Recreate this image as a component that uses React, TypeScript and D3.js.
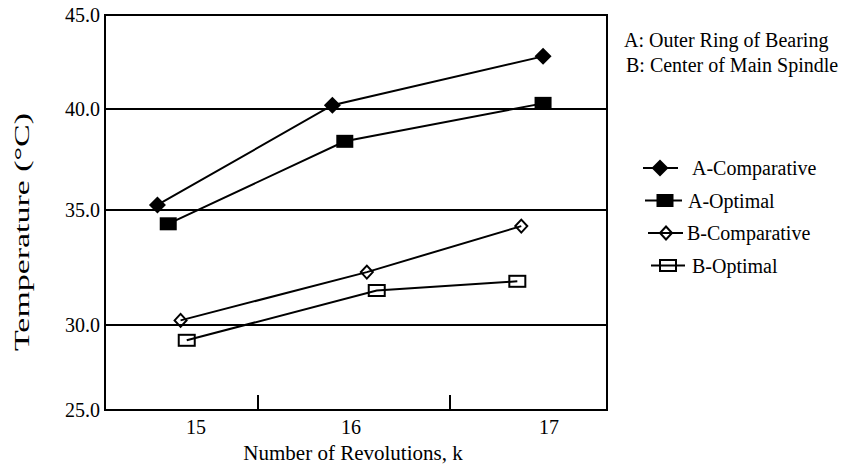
import * as d3 from "d3";

// y ticks and category labels
const tempTicks = [25, 30, 35, 40, 45];
const gridTemps = [30, 35, 40];
const revLabels = [15, 16, 17];
const revDividers = [15.4, 16.5];

// series: x in k revolutions (as placed in the figure), y in °C
const aCompK = [14.75, 15.88, 16.97];
const aCompT = [35.25, 40.2, 42.8];
const aOptK = [14.82, 15.96, 16.97];
const aOptT = [34.4, 38.4, 40.3];
const bCompK = [14.9, 16.08, 16.86];
const bCompT = [30.2, 32.3, 34.3];
const bOptK = [14.94, 16.13, 16.84];
const bOptT = [29.1, 31.5, 31.9];

const legendNotes = ["A: Outer Ring of Bearing", "B: Center of Main Spindle"];

const series = [
  { name: "A-Comparative", k: aCompK, t: aCompT, shape: "diamond", filled: true },
  { name: "A-Optimal", k: aOptK, t: aOptT, shape: "square", filled: true },
  { name: "B-Comparative", k: bCompK, t: bCompT, shape: "diamond", filled: false },
  { name: "B-Optimal", k: bOptK, t: bOptT, shape: "square", filled: false },
];

const W = 841;
const H = 466;
const left = 105, right = 607, top = 15, bottom = 410;
const font = '"Liberation Serif", "DejaVu Serif", serif';

// the original axis is not evenly spaced, so use piecewise scales
const x = d3.scaleLinear().domain([14.41, 15, 16, 17, 17.29]).range([left, 196, 351, 549, right]);
const y = d3.scaleLinear().domain([25, 30, 35, 40, 45]).range([bottom, 325, 210, 109, top]);

const Marker = ({ cx, cy, shape, filled }: any) => {
  if (shape === "diamond") {
    const r = filled ? 8.5 : 6.5;
    const rx = filled ? 8.5 : 6;
    const d = `M${cx},${cy - r}L${cx + rx},${cy}L${cx},${cy + r}L${cx - rx},${cy}Z`;
    return filled ? (
      <path d={d} fill="#000" />
    ) : (
      <path d={d} fill="none" stroke="#000" strokeWidth={2} />
    );
  }
  const w = filled ? 17 : 16;
  const h = filled ? 13 : 11;
  return filled ? (
    <rect x={cx - w / 2} y={cy - h / 2} width={w} height={h} fill="#000" />
  ) : (
    <rect x={cx - w / 2} y={cy - h / 2} width={w} height={h} fill="none" stroke="#000" strokeWidth={2} />
  );
};

const line = d3
  .line<[number, number]>()
  .x((d) => x(d[0]))
  .y((d) => y(d[1]));

const legendX = [643, 645, 648, 651];
const legendEnd = [678, 682, 683, 685];
const legendMark = [660, 665, 666, 668];
const legendText = [692, 688, 687, 692];

export default function App() {
  return (
    <svg width={W} height={H} style={{ position: "absolute", left: 0, top: 0, background: "#fff", fontFamily: font }}>
      {/* grid lines */}
      {gridTemps.map((t) => (
        <line key={t} x1={left} x2={right} y1={y(t)} y2={y(t)} stroke="#000" strokeWidth={2} />
      ))}
      {/* frame */}
      <rect x={left} y={top} width={right - left} height={bottom - top} fill="none" stroke="#000" strokeWidth={2} />
      {/* y ticks */}
      {tempTicks.map((t) => (
        <g key={t}>
          <line x1={left} x2={left + 14} y1={y(t)} y2={y(t)} stroke="#000" strokeWidth={2} />
          <text x={100} y={y(t)} dy="0.35em" textAnchor="end" fontSize={20}>
            {d3.format(".1f")(t)}
          </text>
        </g>
      ))}
      {/* x dividers */}
      {revDividers.map((k) => (
        <line key={k} x1={x(k)} x2={x(k)} y1={bottom - 15} y2={bottom} stroke="#000" strokeWidth={2} />
      ))}
      {revLabels.map((k) => (
        <text key={k} x={x(k)} y={434} textAnchor="middle" fontSize={20}>
          {k}
        </text>
      ))}
      <text x={353} y={460} textAnchor="middle" fontSize={21}>
        Number of Revolutions, k
      </text>
      <text
        transform="translate(29,232) rotate(-90)"
        textAnchor="middle"
        fontSize={22}
        textLength={238}
        lengthAdjust="spacingAndGlyphs"
      >
        Temperature (°C)
      </text>

      {/* series */}
      {series.map((s) => {
        const pts = s.k.map((k, i) => [k, s.t[i]] as [number, number]);
        return (
          <g key={s.name}>
            <path d={line(pts) || ""} fill="none" stroke="#000" strokeWidth={2} />
            {pts.map((p, i) => (
              <Marker key={i} cx={x(p[0])} cy={y(p[1])} shape={s.shape} filled={s.filled} />
            ))}
          </g>
        );
      })}

      {/* notes */}
      <text x={624} y={47} fontSize={20}>
        {legendNotes[0]}
      </text>
      <text x={626} y={72} fontSize={20}>
        {legendNotes[1]}
      </text>

      {/* legend */}
      {series.map((s, i) => {
        const ly = 168 + i * 32.5;
        return (
          <g key={s.name}>
            <line x1={legendX[i]} x2={legendEnd[i]} y1={ly} y2={ly} stroke="#000" strokeWidth={2} />
            <Marker cx={legendMark[i]} cy={ly} shape={s.shape} filled={s.filled} />
            <text x={legendText[i]} y={ly} dy="0.35em" fontSize={20}>
              {s.name}
            </text>
          </g>
        );
      })}
    </svg>
  );
}
